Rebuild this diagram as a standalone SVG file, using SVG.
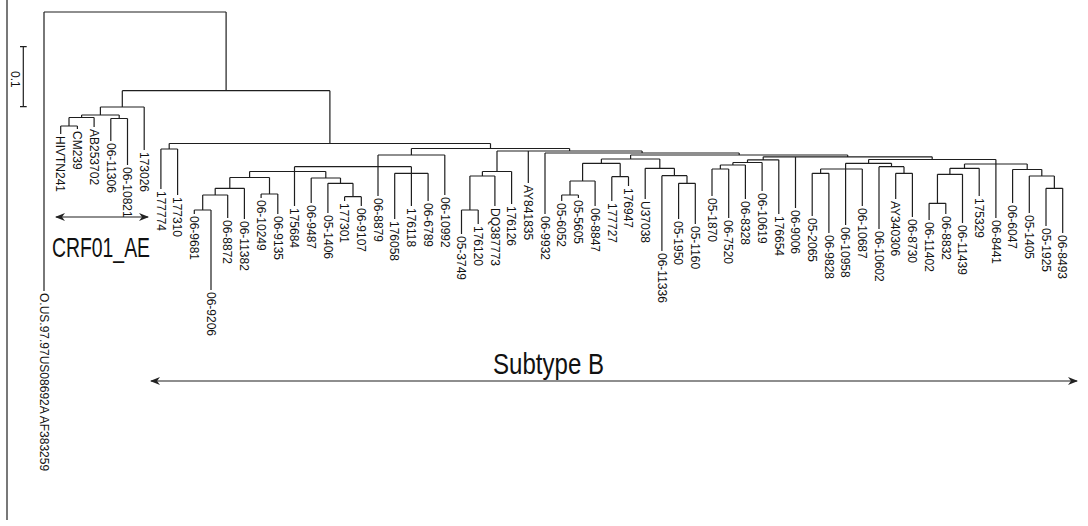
<svg xmlns="http://www.w3.org/2000/svg" width="1088" height="526" viewBox="0 0 1088 526">
<style>
.ln{fill:none;stroke:#1e1e1e;stroke-width:1.2}
.lb{font-family:"Liberation Sans",Arial,sans-serif;font-size:12px;fill:#111}
.big{font-family:"Liberation Sans",Arial,sans-serif;fill:#111}
</style>
<defs>
<marker id="ah" viewBox="0 0 10 8" refX="9" refY="4" markerWidth="10" markerHeight="8" markerUnits="userSpaceOnUse" orient="auto-start-reverse"><path d="M0,0 L10,4 L0,8 L3,4 z" fill="#222"/></marker>
</defs>
<rect width="1088" height="526" fill="#fff"/>
<line class="ln" x1="7" y1="0" x2="7" y2="520"/>
<g id="scalebar">
<path class="ln" d="M23.3 46.7 V106.7 M20 46.7 H26.7 M20 106.7 H26.7"/>
<text class="lb" font-size="11" transform="translate(11 71) rotate(90)">0.1</text>
</g>
<g id="connectors">
<path class="ln" d="
M44 12 H226.1 M44 12 V291 M226.1 12 V90.7
M122.3 90.7 H329.9 M122.3 90.7 V107 M329.9 90.7 V143.5
M100.4 107 H144.2 M100.4 107 V115 M144.2 107 V150
M81.6 115 H119.2 M81.6 115 V117.5 M119.2 115 V118.5
M69 117.5 H94.1 M69 117.5 V126 M94.1 117.5 V127
M60.7 126 H77.4 M60.7 126 V134 M77.4 126 V129
M110.8 118.5 H127.5 M110.8 118.5 V141 M127.5 118.5 V165
M169.2 143.5 H490.5 M169.2 143.5 V149 M490.5 143.5 V148.5
M160.9 149 H177.6 M160.9 149 V189 M177.6 149 V195
M411.4 148.5 H569.6 M411.4 148.5 V155 M569.6 148.5 V151
M378 155 H444.8 M378 155 V166.7 M444.8 155 V195
M294.5 166.7 H411.4 M294.5 166.7 V171.5 M378 166.7 V196 M411.4 166.7 V173.3
M394.7 173.3 H428.1 M394.7 173.3 V219 M411.4 173.3 V206 M428.1 173.3 V201
M249.6 171.5 H325.8 M249.6 171.5 V177.5 M294.5 171.5 V206 M325.8 171.5 V178
M229.8 177.5 H269.5 M229.8 177.5 V188.3 M269.5 177.5 V194
M215.2 188.3 H244.4 M215.2 188.3 V195 M244.4 188.3 V219
M202.7 195 H227.7 M202.7 195 V210 M227.7 195 V218
M194.3 210 H211 M194.3 210 V214 M211 210 V290
M261.1 194 H277.8 M261.1 194 V198 M277.8 194 V214
M311.2 178 H340.5 M311.2 178 V203 M340.5 178 V183.3
M327.9 183.3 H353 M327.9 183.3 V213 M353 183.3 V196.7
M344.6 196.7 H361.3 M344.6 196.7 V201 M361.3 196.7 V206
M497 151 H642.1 M497 151 V171.5 M528.3 151 V183 M642.1 151 V153
M482.4 171.5 H511.6 M482.4 171.5 V176 M511.6 171.5 V204
M469.9 176 H494.9 M469.9 176 V210 M494.9 176 V206
M461.5 210 H478.2 M461.5 210 V234 M478.2 210 V224
M545 153 H739.2 M545 153 V214 M739.2 153 V155
M630.6 155 H847.7 M630.6 155 V159 M847.7 155 V156.8
M601.4 159 H659.8 M601.4 159 V163.3 M659.8 159 V168.3
M582.6 163.3 H620.2 M582.6 163.3 V181 M620.2 163.3 V176.7
M570 181 H595.1 M570 181 V195 M595.1 181 V206
M561.7 195 H578.4 M561.7 195 V201 M578.4 195 V198
M611.8 176.7 H628.5 M611.8 176.7 V201 M628.5 176.7 V186
M645.2 168.3 H674.4 M645.2 168.3 V199 M674.4 168.3 V175.7
M661.9 175.7 H687 M661.9 175.7 V251 M687 175.7 V183.3
M678.6 183.3 H695.3 M678.6 183.3 V219 M695.3 183.3 V224
M763.2 156.8 H932.2 M763.2 156.8 V159.8 M795.5 156.8 V208 M932.2 156.8 V159.5
M747.5 159.8 H778.8 M747.5 159.8 V162.5 M778.8 159.8 V214
M732.9 162.5 H762.1 M732.9 162.5 V165 M762.1 162.5 V191
M720.35 165 H745.4 M720.35 165 V169 M745.4 165 V199
M712 169 H728.7 M712 169 V196 M728.7 169 V218
M868.6 159.5 H995.9 M868.6 159.5 V163.3 M995.9 159.5 V164
M845.6 163.3 H891.5 M845.6 163.3 V169 M891.5 163.3 V166.7
M820.6 169 H862.3 M820.6 169 V173.3 M845.6 169 V225 M862.3 169 V206
M812.2 173.3 H828.9 M812.2 173.3 V216 M828.9 173.3 V233
M879 166.7 H904 M879 166.7 V229 M904 166.7 V173.3
M895.7 173.3 H912.4 M895.7 173.3 V199 M912.4 173.3 V217
M964.5 164 H1027.2 M964.5 164 V168.3 M995.9 164 V218 M1027.2 164 V169.5
M949.9 168.3 H979.2 M949.9 168.3 V174.3 M979.2 168.3 V196
M937.45 174.3 H962.5 M937.45 174.3 V203.3 M962.5 174.3 V223
M929.1 203.3 H945.8 M929.1 203.3 V220 M945.8 203.3 V214
M1012.6 169.5 H1041.8 M1012.6 169.5 V203 M1041.8 169.5 V176
M1029.3 176 H1054.35 M1029.3 176 V213 M1054.35 176 V188.3
M1046 188.3 H1062.7 M1046 188.3 V226 M1062.7 188.3 V233
"/>
</g>
<g id="leaf00"><text class="lb" transform="translate(39.7 293) rotate(90)">O.US.97.97US08692A AF383259</text></g>
<g id="leaf01"><text class="lb" transform="translate(56.4 136) rotate(90)">HIVTN241</text></g>
<g id="leaf02"><text class="lb" transform="translate(73.1 131) rotate(90)">CM239</text></g>
<g id="leaf03"><text class="lb" transform="translate(89.8 129) rotate(90)">AB253702</text></g>
<g id="leaf04"><text class="lb" transform="translate(106.5 143) rotate(90)">06-11306</text></g>
<g id="leaf05"><text class="lb" transform="translate(123.2 167) rotate(90)">06-10821</text></g>
<g id="leaf06"><text class="lb" transform="translate(139.9 152) rotate(90)">173026</text></g>
<g id="leaf07"><text class="lb" transform="translate(156.6 191) rotate(90)">177774</text></g>
<g id="leaf08"><text class="lb" transform="translate(173.3 197) rotate(90)">177310</text></g>
<g id="leaf09"><text class="lb" transform="translate(190 216) rotate(90)">06-9681</text></g>
<g id="leaf10"><text class="lb" transform="translate(206.7 292) rotate(90)">06-9206</text></g>
<g id="leaf11"><text class="lb" transform="translate(223.4 220) rotate(90)">06-8872</text></g>
<g id="leaf12"><text class="lb" transform="translate(240.1 221) rotate(90)">06-11382</text></g>
<g id="leaf13"><text class="lb" transform="translate(256.8 200) rotate(90)">06-10249</text></g>
<g id="leaf14"><text class="lb" transform="translate(273.5 216) rotate(90)">06-9135</text></g>
<g id="leaf15"><text class="lb" transform="translate(290.2 208) rotate(90)">175684</text></g>
<g id="leaf16"><text class="lb" transform="translate(306.9 205) rotate(90)">06-9487</text></g>
<g id="leaf17"><text class="lb" transform="translate(323.6 215) rotate(90)">05-1406</text></g>
<g id="leaf18"><text class="lb" transform="translate(340.3 203) rotate(90)">177301</text></g>
<g id="leaf19"><text class="lb" transform="translate(357 208) rotate(90)">06-9107</text></g>
<g id="leaf20"><text class="lb" transform="translate(373.7 198) rotate(90)">06-8879</text></g>
<g id="leaf21"><text class="lb" transform="translate(390.4 221) rotate(90)">176058</text></g>
<g id="leaf22"><text class="lb" transform="translate(407.1 208) rotate(90)">176118</text></g>
<g id="leaf23"><text class="lb" transform="translate(423.8 203) rotate(90)">06-6789</text></g>
<g id="leaf24"><text class="lb" transform="translate(440.5 197) rotate(90)">06-10992</text></g>
<g id="leaf25"><text class="lb" transform="translate(457.2 236) rotate(90)">05-3749</text></g>
<g id="leaf26"><text class="lb" transform="translate(473.9 226) rotate(90)">176120</text></g>
<g id="leaf27"><text class="lb" transform="translate(490.6 208) rotate(90)">DQ387773</text></g>
<g id="leaf28"><text class="lb" transform="translate(507.3 206) rotate(90)">176126</text></g>
<g id="leaf29"><text class="lb" transform="translate(524 185) rotate(90)">AY841835</text></g>
<g id="leaf30"><text class="lb" transform="translate(540.7 216) rotate(90)">06-9932</text></g>
<g id="leaf31"><text class="lb" transform="translate(557.4 203) rotate(90)">05-6052</text></g>
<g id="leaf32"><text class="lb" transform="translate(574.1 200) rotate(90)">05-5605</text></g>
<g id="leaf33"><text class="lb" transform="translate(590.8 208) rotate(90)">06-8847</text></g>
<g id="leaf34"><text class="lb" transform="translate(607.5 203) rotate(90)">177727</text></g>
<g id="leaf35"><text class="lb" transform="translate(624.2 188) rotate(90)">176947</text></g>
<g id="leaf36"><text class="lb" transform="translate(640.9 201) rotate(90)">U37038</text></g>
<g id="leaf37"><text class="lb" transform="translate(657.6 253) rotate(90)">06-11336</text></g>
<g id="leaf38"><text class="lb" transform="translate(674.3 221) rotate(90)">05-1950</text></g>
<g id="leaf39"><text class="lb" transform="translate(691 226) rotate(90)">05-1160</text></g>
<g id="leaf40"><text class="lb" transform="translate(707.7 198) rotate(90)">05-1870</text></g>
<g id="leaf41"><text class="lb" transform="translate(724.4 220) rotate(90)">06-7520</text></g>
<g id="leaf42"><text class="lb" transform="translate(741.1 201) rotate(90)">06-8328</text></g>
<g id="leaf43"><text class="lb" transform="translate(757.8 193) rotate(90)">06-10619</text></g>
<g id="leaf44"><text class="lb" transform="translate(774.5 216) rotate(90)">176654</text></g>
<g id="leaf45"><text class="lb" transform="translate(791.2 210) rotate(90)">06-9006</text></g>
<g id="leaf46"><text class="lb" transform="translate(807.9 218) rotate(90)">05-2065</text></g>
<g id="leaf47"><text class="lb" transform="translate(824.6 235) rotate(90)">06-9828</text></g>
<g id="leaf48"><text class="lb" transform="translate(841.3 227) rotate(90)">06-10958</text></g>
<g id="leaf49"><text class="lb" transform="translate(858 208) rotate(90)">06-10687</text></g>
<g id="leaf50"><text class="lb" transform="translate(874.7 231) rotate(90)">06-10602</text></g>
<g id="leaf51"><text class="lb" transform="translate(891.4 201) rotate(90)">AY340306</text></g>
<g id="leaf52"><text class="lb" transform="translate(908.1 219) rotate(90)">06-8730</text></g>
<g id="leaf53"><text class="lb" transform="translate(924.8 222) rotate(90)">06-11402</text></g>
<g id="leaf54"><text class="lb" transform="translate(941.5 216) rotate(90)">06-8832</text></g>
<g id="leaf55"><text class="lb" transform="translate(958.2 225) rotate(90)">06-11439</text></g>
<g id="leaf56"><text class="lb" transform="translate(974.9 198) rotate(90)">175329</text></g>
<g id="leaf57"><text class="lb" transform="translate(991.6 220) rotate(90)">06-8441</text></g>
<g id="leaf58"><text class="lb" transform="translate(1008.3 205) rotate(90)">06-6047</text></g>
<g id="leaf59"><text class="lb" transform="translate(1025 215) rotate(90)">05-1405</text></g>
<g id="leaf60"><text class="lb" transform="translate(1041.7 228) rotate(90)">05-1925</text></g>
<g id="leaf61"><text class="lb" transform="translate(1058.4 235) rotate(90)">06-8493</text></g>
<g id="crf01ae">
<line class="ln" x1="56" y1="217" x2="148" y2="217" marker-start="url(#ah)" marker-end="url(#ah)"/>
<text class="big" x="52" y="257" font-size="28" textLength="98" lengthAdjust="spacingAndGlyphs">CRF01_AE</text>
</g>
<g id="subtypeB">
<line class="ln" x1="151" y1="381" x2="1077" y2="381" marker-start="url(#ah)" marker-end="url(#ah)"/>
<text class="big" x="493" y="374" font-size="30" textLength="111" lengthAdjust="spacingAndGlyphs">Subtype B</text>
</g>
</svg>
